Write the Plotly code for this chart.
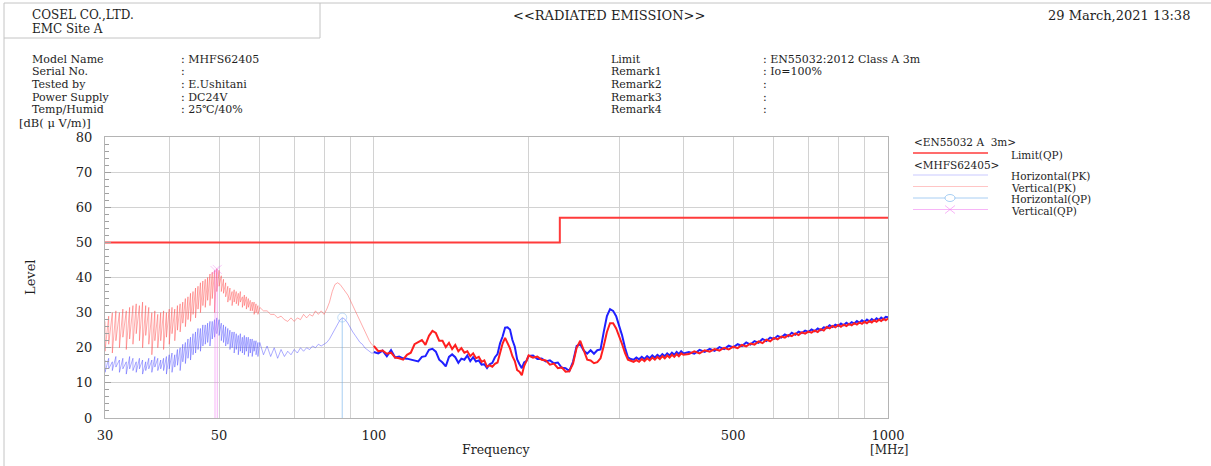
import math
import plotly.graph_objects as go

# ---------------- DATA ----------------
limit_freq = [30, 230, 230, 1000]
limit_level = [50, 50, 57, 57]

# 30-60 MHz comb region (harmonic tops and dips)
comb_freq = [30.0, 30.5, 31.0, 31.5, 32.0, 32.5, 33.0, 33.5, 34.0, 34.5,
             35.0, 35.5, 36.0, 36.5, 37.0, 37.5, 38.0, 38.5, 39.0, 39.5,
             40.0, 40.5, 41.0, 41.5, 42.0, 42.5, 43.0, 43.5, 44.0, 44.5,
             45.0, 45.5, 46.0, 46.5, 47.0, 47.5, 48.0, 48.5, 49.0, 49.5,
             50.0, 50.5, 51.0, 51.5, 52.0, 52.5, 53.0, 53.5, 54.0, 54.5,
             55.0, 55.5, 56.0, 56.5, 57.0, 57.5, 58.0, 58.5, 59.0, 59.5]
vert_pk_comb_top = [27.5, 29, 30, 30.5, 30, 31, 30.5, 31.5, 32, 32.5,
                    32, 33, 32, 31.5, 30, 30.5, 29.5, 30, 30.5, 30,
                    31, 31.5, 31, 32, 32.5, 33, 34, 34.5, 35.5, 36,
                    37, 37.5, 38.5, 39, 39.5, 40, 41, 41.5, 42, 42.5,
                    42, 40.5, 39.5, 38.5, 37.5, 37, 36, 36.5, 36, 35.5,
                    36, 34.5, 35, 34.5, 34, 33.5, 33, 33, 32.5, 32]
vert_pk_comb_dip = [19, 21, 18.5, 22, 20, 23, 19.5, 22.5, 21, 24,
                    22, 20, 23.5, 21, 18, 22, 20, 22, 19.5, 23,
                    21, 24, 22, 25, 24.5, 27, 26, 28, 27.5, 29.5,
                    28.5, 31, 30, 32, 31.5, 33.5, 32, 34, 30, 36,
                    37.5, 36, 35.5, 34.5, 33, 33.5, 32, 33, 32.5, 32,
                    33, 31.5, 32, 31, 31.5, 30.5, 30.5, 29.5, 30, 29.5]
horiz_pk_comb_top = [16.5, 17, 16, 17.5, 16.5, 17, 16, 17.5, 17, 16,
                     17, 16.5, 16, 17, 16.5, 17.5, 17, 16.5, 17, 17.5,
                     18, 18.5, 18, 19.5, 20, 21, 21.5, 22.5, 23, 24,
                     24.5, 25.5, 25.5, 26.5, 26.5, 27, 27.5, 27.5, 28, 28.5,
                     28, 27, 26.5, 26, 25.5, 25, 24.5, 24.5, 24, 23.5,
                     24, 23, 23.5, 23, 23, 22.5, 22.5, 22, 22, 21.5]
horiz_pk_comb_dip = [13, 14, 13.5, 14.5, 13, 14, 12.5, 14, 13.5, 13,
                     14, 12.5, 13.5, 14, 13, 14.5, 13.5, 14, 13.5, 12.5,
                     14, 13, 14.5, 15, 13.5, 16, 15.5, 17, 16.5, 18,
                     18.5, 19.5, 19, 20.5, 21, 21.5, 20.5, 22.5, 23, 24,
                     23.5, 22, 21.5, 20.5, 21, 19.5, 20, 18.5, 19.5, 18,
                     19, 18.5, 18, 19, 17.5, 18.5, 17.5, 19, 18, 17.5]

# 60-100 MHz
mid_freq = [60, 61, 62, 63, 64, 65, 66, 67, 68, 69, 70, 71, 72, 73, 74, 75, 76, 77, 78, 79,
            80, 81, 82, 83, 84, 85, 86, 87, 88, 89, 90, 91, 92, 93, 94, 95, 96, 97, 98, 99, 100]
vert_pk_mid = [31.5, 30.5, 30.5, 29.5, 29.5, 28.5, 29, 28, 27.5, 28.5, 27.5, 28.5, 28, 29.5, 28.5, 29.5, 29, 30.5, 29.5, 30.5,
               29.5, 31, 33, 36, 38, 38.5, 38, 37, 36, 35, 33.5, 32, 30.5, 29, 27.5, 26, 24.5, 23.5, 22, 21, 20.5]
horiz_pk_mid = [21.5, 18, 20.5, 17.5, 20, 17, 19.5, 17.5, 19, 18, 19.5, 18.5, 20, 19, 20, 19.5, 20.5, 20, 21, 20.5,
                21, 21.5, 22.5, 24, 25.5, 27, 28, 28.5, 28, 27, 25.5, 24.5, 23.5, 22.5, 21.5, 21, 20, 19.5, 19, 18.5, 18.5]

# 100-1000 MHz
hi_freq_a = [100, 102, 104, 106, 108, 110, 112, 114, 116, 118, 120, 122, 124, 126, 128, 130, 132, 134, 136, 138,
             140, 142, 144, 146, 148, 150, 152, 154, 156, 158, 160, 162, 164, 166, 168, 170, 172, 174, 176, 178,
             180, 182, 184, 186, 188, 190, 192, 194, 196, 198, 200]
vert_pk_a = [20.5, 19.0, 19.2, 18.3, 18.6, 17.2, 17.0, 16.6, 18.0, 18.6, 21.0, 21.6, 22.2, 20.8, 23.4, 24.8, 24.2, 22.0, 22.0, 20.2,
             21.4, 19.6, 20.8, 19.0, 19.9, 18.6, 19.0, 17.6, 18.4, 17.0, 17.4, 16.0, 16.4, 14.6, 15.0, 14.6, 15.4, 15.8, 18.6, 21.2,
             22.8, 21.2, 19.8, 17.6, 16.2, 13.6, 13.2, 12.2, 14.8, 16.2, 17.8]
horiz_pk_a = [18.8, 18.4, 19.2, 17.6, 19.3, 17.2, 17.5, 17.0, 16.9, 16.6, 16.4, 16.1, 17.4, 17.6, 19.4, 19.7, 18.9, 16.6, 15.8, 14.7,
              17.4, 18.1, 17.3, 15.7, 16.9, 16.6, 17.8, 16.2, 17.3, 16.1, 16.4, 15.2, 15.3, 14.2, 15.3, 15.7, 17.3, 18.2, 21.3, 23.2,
              25.7, 25.8, 25.2, 22.2, 20.3, 16.7, 15.3, 14.2, 15.8, 16.2, 17.7]
hi_freq_b = [204, 208, 212, 216, 220, 224, 228, 232, 236, 240, 244, 248, 252, 256, 260, 264, 268, 272, 276, 280,
             284, 288, 292, 296, 300, 304, 308, 312, 316, 320, 324, 328, 332, 336, 340, 344, 348, 352, 356, 360,
             364, 368, 372, 376, 380, 384, 388, 392, 396, 400]
vert_pk_b = [17.2, 17.5, 16.6, 16.4, 15.2, 15.5, 14.2, 14.4, 13.2, 13.3, 15.5, 20, 22, 19, 16.6, 16.4, 15.6, 15.9, 17, 20.5,
             24.5, 27, 27, 25.5, 23.5, 21, 18.5, 16.6, 16.3, 16.0, 16.5, 16.0, 16.8, 16.2, 17.0, 16.4, 17.2, 16.6, 17.4, 16.8,
             17.6, 17.0, 17.8, 17.2, 18.0, 17.4, 18.2, 17.6, 18.4, 18.0]
horiz_pk_b = [17.8, 16.8, 16.9, 16.1, 16.4, 15.6, 15.8, 14.3, 14.2, 13.4, 16, 20.5, 21, 19.2, 18.3, 19.3, 18.3, 19.3, 19.5, 24.5,
              29, 31, 30.5, 29, 26.5, 23.5, 20, 17.3, 16.8, 16.6, 17.2, 16.7, 17.4, 16.8, 17.6, 17.0, 17.8, 17.2, 18.0, 17.4,
              18.2, 17.6, 18.4, 17.8, 18.6, 18.0, 18.8, 18.2, 19.0, 18.4]
hi_freq_c = [410, 420, 430, 440, 450, 460, 470, 480, 490, 500, 510, 520, 530, 540, 550, 560, 570, 580, 590, 600,
             610, 620, 630, 640, 650, 660, 670, 680, 690, 700, 710, 720, 730, 740, 750, 760, 770, 780, 790, 800,
             810, 820, 830, 840, 850, 860, 870, 880, 890, 900, 910, 920, 930, 940, 950, 960, 970, 980, 990, 1000]
vert_pk_c = [18.2, 19.0, 18.4, 19.3, 18.9, 19.6, 19.2, 20.0, 19.5, 20.3, 19.9, 20.8, 20.4, 21.2, 20.9, 21.8, 21.3, 22.3, 21.8, 22.8,
             22.4, 23.2, 22.9, 23.6, 23.3, 24.1, 23.6, 24.4, 24.0, 24.6, 24.3, 24.9, 24.5, 25.3, 24.9, 25.9, 25.5, 26.2, 25.8, 26.5,
             26.0, 26.6, 26.2, 26.8, 26.4, 27.0, 26.6, 27.2, 26.8, 27.4, 27.0, 27.6, 27.2, 27.8, 27.4, 28.0, 27.6, 28.2, 27.8, 28.3]
horiz_pk_c = [18.8, 18.3, 19.4, 18.8, 19.7, 19.1, 20.2, 19.6, 20.6, 20.1, 21.0, 20.5, 21.5, 20.9, 21.9, 21.4, 22.5, 21.9, 22.9, 22.5,
              23.4, 22.9, 23.8, 23.3, 24.3, 23.7, 24.6, 24.2, 24.9, 24.5, 25.2, 24.7, 25.5, 25.0, 25.8, 25.6, 26.4, 25.9, 26.6, 26.2,
              26.9, 26.4, 27.1, 26.6, 27.3, 26.9, 27.6, 27.1, 27.8, 27.3, 28.0, 27.5, 28.2, 27.7, 28.4, 27.9, 28.6, 28.1, 28.8, 28.7]

# QP measurements
vert_qp_freq = [49.1, 49.6]
vert_qp_level = [42.0, 42.3]
horiz_qp_freq = [86.8]
horiz_qp_level = [28.6]

x_tick_vals = [30, 50, 100, 500, 1000]
x_tick_text = ["30", "50", "100", "500", "1000"]
x_minor_vals = [40, 60, 70, 80, 90, 200, 300, 400, 600, 700, 800, 900]

header_left = ["COSEL CO.,LTD.", "EMC Site A"]
header_title = "&lt;&lt;RADIATED EMISSION&gt;&gt;"
header_date = "29 March,2021 13:38"
info_labels_left = ["Model Name", "Serial No.", "Tested by", "Power Supply", "Temp/Humid"]
info_values_left = [": MHFS62405", ":", ": E.Ushitani", ": DC24V", ": 25℃/40%"]
info_labels_right = ["Limit", "Remark1", "Remark2", "Remark3", "Remark4"]
info_values_right = [": EN55032:2012 Class A 3m", ": Io=100%", ":", ":", ":"]
legend_group1 = "&lt;EN55032 A&nbsp; 3m&gt;"
legend_group2 = "&lt;MHFS62405&gt;"
legend_items = ["Limit(QP)", "Horizontal(PK)", "Vertical(PK)", "Horizontal(QP)", "Vertical(QP)"]

# ---------------- STYLE / LAYOUT ----------------
W, H = 1211, 466
L, R, T, B = 105, 888, 137, 418
FONT = "DejaVu Serif"
TXT = "#1e1e1e"
GRID = "#d2d2d2"
FRAME = "#b4b4b4"

RED = "#ff1f1f"
BLUE = "#2020ff"
RED_PALE = "rgba(255,70,70,0.45)"
BLUE_PALE = "rgba(70,70,255,0.45)"
LIMIT_RED = "#ff3b3b"
PINK = "rgba(240,120,240,0.55)"
LBLUE = "rgba(110,175,235,0.6)"


def PX(x):
    return (x - L) / (R - L)


def PY(y):
    return (B - y) / (B - T)


def comb_xy(freqs, tops, dips):
    xs, ys = [], []
    for f, t, d in zip(freqs, tops, dips):
        xs += [f, f]
        ys += [t, d]
    return xs, ys


fig = go.Figure()

# low-frequency PK (pale)
hx, hy = comb_xy(comb_freq, horiz_pk_comb_top, horiz_pk_comb_dip)
fig.add_trace(go.Scatter(x=hx + mid_freq, y=hy + horiz_pk_mid, mode="lines",
                         line=dict(color=BLUE_PALE, width=1), hoverinfo="skip"))
vx, vy = comb_xy(comb_freq, vert_pk_comb_top, vert_pk_comb_dip)
fig.add_trace(go.Scatter(x=vx + mid_freq, y=vy + vert_pk_mid, mode="lines",
                         line=dict(color=RED_PALE, width=1), hoverinfo="skip"))

# high-frequency PK
fig.add_trace(go.Scatter(x=hi_freq_a + hi_freq_b + hi_freq_c,
                         y=horiz_pk_a + horiz_pk_b + horiz_pk_c, mode="lines",
                         line=dict(color=BLUE, width=2), hoverinfo="skip"))
fig.add_trace(go.Scatter(x=hi_freq_a + hi_freq_b + hi_freq_c,
                         y=vert_pk_a + vert_pk_b + vert_pk_c, mode="lines",
                         line=dict(color=RED, width=2), hoverinfo="skip"))

# QP stems
for f, lv in zip(vert_qp_freq, vert_qp_level):
    fig.add_trace(go.Scatter(x=[f, f], y=[0, lv], mode="lines+markers",
                             line=dict(color=PINK, width=1),
                             marker=dict(symbol="x-thin", size=[0, 9], color=PINK,
                                         line=dict(color=PINK, width=1)),
                             hoverinfo="skip"))
for f, lv in zip(horiz_qp_freq, horiz_qp_level):
    fig.add_trace(go.Scatter(x=[f, f], y=[0, lv], mode="lines+markers",
                             line=dict(color=LBLUE, width=1),
                             marker=dict(symbol="circle-open", size=[0, 9], color=LBLUE,
                                         line=dict(color=LBLUE, width=1)),
                             hoverinfo="skip"))

# limit
fig.add_trace(go.Scatter(x=limit_freq, y=limit_level, mode="lines",
                         line=dict(color=LIMIT_RED, width=2), hoverinfo="skip"))

annotations = []


def txt(x, y, s, size=11, anchor="left", angle=0):
    annotations.append(dict(x=PX(x), y=PY(y), xref="paper", yref="paper", text=s,
                            showarrow=False, xanchor=anchor, yanchor="middle",
                            textangle=angle, borderpad=0,
                            font=dict(family=FONT, size=size, color=TXT)))


txt(31, 14.5, header_left[0], 12)
txt(31, 28.5, header_left[1], 12)
txt(609, 15, header_title, 13, "center")
txt(1191, 15, header_date, 13, "right")

rows_y = [59.5, 72, 84.5, 97, 109.5]
for lab, val, yy in zip(info_labels_left, info_values_left, rows_y):
    txt(31, yy, lab)
    txt(180, yy, val)
for lab, val, yy in zip(info_labels_right, info_values_right, rows_y):
    txt(610, yy, lab)
    txt(762, yy, val)

txt(18, 122.5, "[dB( μ V/m)]", 11.5)
txt(30, 277, "Level", 13, "center", -90)
txt(496, 449, "Frequency", 12.5, "center")
txt(889, 449.5, "[MHz]", 12, "center")

# legend
txt(913, 142, legend_group1, 10.5)
txt(913, 164.5, legend_group2, 10.5)
leg_y = [154.5, 176, 187.5, 199, 210.5]
for s, yy in zip(legend_items, leg_y):
    txt(1010, yy, s, 10.5)

shapes = []


def seg(x0, y0, x1, y1, color, width=1):
    shapes.append(dict(type="line", xref="paper", yref="paper",
                       x0=PX(x0), y0=PY(y0), x1=PX(x1), y1=PY(y1),
                       line=dict(color=color, width=width)))


PAGE = "#c4c4c4"
seg(4, 3, 1211, 3, PAGE)
seg(4, 3, 4, 466, PAGE)
seg(320, 3, 320, 38, PAGE)
seg(4, 38, 320, 38, PAGE)

seg(913, 153, 988, 153, LIMIT_RED, 1.5)
seg(913, 175, 988, 175, "rgba(120,120,255,0.4)", 1)
seg(913, 186.5, 988, 186.5, "rgba(255,110,110,0.4)", 1)
seg(913, 198, 988, 198, LBLUE, 1)
seg(913, 209.5, 988, 209.5, PINK, 1)
shapes.append(dict(type="circle", xref="paper", yref="paper",
                   x0=PX(945), x1=PX(955), y0=PY(194.5), y1=PY(201.5),
                   line=dict(color=LBLUE, width=1), fillcolor="white"))
seg(945, 205.5, 955, 213.5, PINK, 1)
seg(945, 213.5, 955, 205.5, PINK, 1)

fig.update_layout(
    width=W, height=H, autosize=False,
    margin=dict(l=L, r=W - R, t=T, b=H - B, pad=0),
    paper_bgcolor="white", plot_bgcolor="white",
    showlegend=False,
    font=dict(family=FONT, size=13, color=TXT),
    annotations=annotations,
    shapes=shapes,
    xaxis=dict(type="log", range=[math.log10(30), math.log10(1000)],
               tickmode="array", tickvals=x_tick_vals, ticktext=x_tick_text,
               showgrid=True, gridcolor=GRID, gridwidth=1,
               showline=True, linecolor=FRAME, linewidth=1, mirror=True,
               ticks="", zeroline=False, tickfont=dict(size=13, family=FONT, color=TXT),
               ticklabelstandoff=5,
               minor=dict(tickmode="array", tickvals=x_minor_vals, showgrid=True,
                          gridcolor=GRID, gridwidth=1, ticks="")),
    yaxis=dict(range=[0, 80], tickmode="linear", tick0=0, dtick=10,
               showgrid=True, gridcolor=GRID, gridwidth=1,
               showline=True, linecolor=FRAME, linewidth=1, mirror=True,
               ticks="inside", ticklen=6, tickcolor="#a0a0a0",
               zeroline=False, tickfont=dict(size=13, family=FONT, color=TXT),
               ticklabelstandoff=9,
               minor=dict(dtick=2, ticks="inside", ticklen=4, tickcolor="#a0a0a0",
                          showgrid=False)),
)

fig.write_html("out.html", config={"displayModeBar": False},
               post_script="document.body.style.margin='0px';document.body.style.overflow='hidden';")
